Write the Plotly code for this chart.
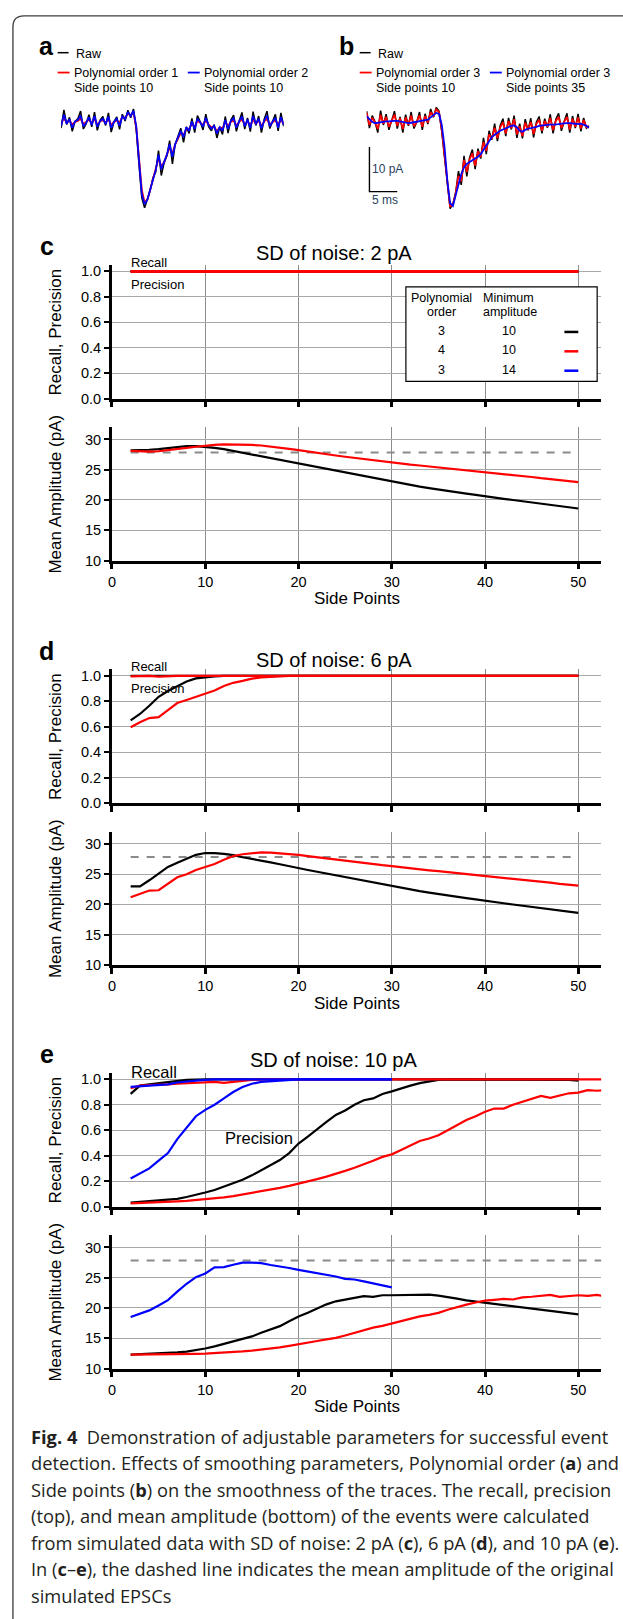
import plotly.graph_objects as go

W, H = 623, 1619
ARIAL = "Liberation Sans, Arial, sans-serif"
CAPFONT = "Open Sans, sans-serif"
BLACK, RED, BLUE, DASHGREY = "#000000", "#ff0000", "#0000ff", "#8a8a8a"

# ---------------- panel a / b traces (pA vs ms, sampled every 0.5 ms) ----------------
STEP_MS = 0.5

A_RAW = [-1.2, 2.9, -0.4, 1.2, -1.9, 0.3, 0.9, 2.6, -1.4, -0.2, 1.8, -0.9, 2.4, -1.7, 0.6, 1.4,
         -0.6, 2.2, -2.1, 0.2, 1.3, -1.5, 1.9, 0.4, 2.8, 1.1, 3.1, -1.5, -9.5, -16.8, -19.0, -17.0,
         -15.2, -12.3, -11.0, -6.2, -11.8, -9.0, -7.4, -4.0, -9.2, -4.8, -3.1, -1.2, -4.4, -0.9, -2.4, 1.0,
         -2.2, 1.6, 0.2, -1.6, 1.9, -0.9, -1.8, -0.4, -3.4, -1.0, -2.6, 1.4, -2.3, 0.6, 1.7, -1.9,
         0.4, 2.3, -1.4, 1.1, -2.0, 2.5, -0.6, 1.5, -2.2, 0.8, 2.6, -1.3, 0.3, 1.9, -1.8, 2.2, -0.8]
A_RED = [-0.2, 1.0, 0.0, 0.5, -0.4, 0.2, 0.4, 0.9, -0.3, 0.1, 0.7, -0.1, 0.9, -0.4, 0.3, 0.6,
         0.0, 0.8, -0.5, 0.2, 0.5, 0.0, 1.3, 1.1, 2.0, 1.7, 2.3, -1.0, -8.0, -15.0, -17.8, -17.2,
         -15.0, -12.8, -10.6, -8.0, -9.8, -8.8, -7.2, -5.6, -6.8, -4.8, -3.6, -2.2, -2.8, -1.4, -1.4, -0.2,
         -0.9, 0.4, 0.0, -0.5, 0.5, -0.4, -1.0, -0.9, -1.9, -1.0, -1.3, 0.3, -0.8, 0.2, 0.5, -0.6,
         0.2, 0.7, -0.4, 0.3, -0.6, 0.7, -0.2, 0.5, -0.7, 0.3, 0.8, -0.4, 0.1, 0.6, -0.5, 0.6, -0.2]
A_BLUE = [-0.6, 1.8, -0.2, 0.8, -1.1, 0.3, 0.6, 1.6, -0.8, 0.0, 1.2, -0.5, 1.5, -0.9, 0.4, 0.9,
          -0.3, 1.4, -1.2, 0.2, 0.9, -0.7, 1.5, 0.8, 2.4, 1.5, 2.7, -0.8, -8.5, -16.0, -18.2, -17.2,
          -15.0, -12.8, -10.6, -7.2, -10.4, -8.8, -7.2, -4.8, -7.6, -4.8, -3.2, -1.8, -3.2, -1.0, -1.8, 0.3,
          -1.4, 0.9, 0.1, -0.9, 1.1, -0.5, -1.3, -0.7, -2.4, -1.0, -1.8, 0.6, -1.4, 0.4, 1.0, -1.1,
          0.3, 1.4, -0.8, 0.7, -1.2, 1.5, -0.3, 0.9, -1.3, 0.5, 1.6, -0.8, 0.2, 1.1, -1.1, 1.3, -0.5]

B_RAW = [2.6, -1.2, 1.6, 0.2, -2.2, 2.7, -0.5, 1.9, -1.6, 0.6, 2.6, -1.3, 1.3, -2.2, 1.8, -0.7,
         2.4, -1.3, 0.1, 2.4, -1.6, 2.0, -0.3, 3.1, 1.2, 3.4, 2.6, -2.0, -8.0, -14.5, -19.2, -18.2,
         -15.6, -10.8, -13.9, -7.4, -12.0, -7.8, -6.0, -10.4, -5.8, -8.0, -3.4, -7.0, -1.8, -3.8, -0.2, -4.1,
         -0.6, 0.9, -3.0, 1.1, -1.5, 1.6, -3.4, -0.2, -3.5, 0.8, -1.7, 1.0, -3.3, 0.1, 1.4, -2.4,
         0.9, -1.1, 1.9, -2.4, 0.8, 2.1, -1.8, 0.3, 2.1, -2.2, 1.5, -1.2, 2.0, -1.9, 1.1, -1.2, -0.7]
B_RED = [2.2, -0.5, 1.1, 0.1, -1.4, 1.8, -0.2, 1.3, -0.9, 0.5, 1.8, -0.7, 1.0, -1.4, 1.2, -0.5,
         1.6, -0.8, 0.2, 1.7, -0.9, 1.5, 0.0, 2.4, 1.4, 3.0, 2.4, -1.5, -7.1, -14.0, -18.8, -18.3,
         -15.8, -11.9, -13.1, -8.3, -11.0, -8.2, -6.8, -9.6, -6.4, -7.7, -4.3, -6.3, -2.6, -3.6, -1.1, -3.4,
         -1.0, 0.1, -2.4, 0.4, -1.2, 0.8, -2.6, -0.8, -3.0, 0.0, -1.6, 0.2, -2.5, -0.3, 0.7, -1.8,
         0.4, -0.9, 1.1, -1.7, 0.4, 1.3, -1.2, 0.2, 1.3, -1.5, 0.9, -0.9, 1.2, -1.3, 0.6, -1.0, -0.8]
B_BLUE = [1.4, 0.8, 0.2, -0.1, 0.0, 0.2, 0.3, 0.3, 0.3, 0.4, 0.4, 0.4, 0.3, 0.2, 0.0, -0.1,
          0.0, 0.1, 0.3, 0.3, 0.4, 0.5, 0.7, 1.2, 1.8, 2.2, 2.0, -0.5, -5.5, -13.0, -18.0, -18.6,
          -16.2, -13.8, -11.5, -10.0, -9.2, -8.8, -8.4, -8.0, -7.6, -7.0, -6.0, -5.0, -4.0, -3.2, -2.7, -2.2,
          -1.8, -1.5, -1.2, -0.9, -0.7, -0.6, -1.0, -1.8, -2.0, -1.6, -1.3, -1.2, -1.1, -0.9, -0.7, -0.6,
          -0.5, -0.5, -0.4, -0.4, -0.4, -0.3, -0.2, -0.1, -0.1, -0.1, -0.2, -0.3, -0.3, -0.2, -0.4, -0.7, -1.1]

SCALE_PA, SCALE_MS = 10, 5
SCALE_T0, SCALE_Y0 = 0.5, -15.4

# ---------------- panels c-e: recall / precision / amplitude ----------------
MEAN_ORIGINAL_PA = 27.85
SP_2_50 = list(range(2, 51))
SP_2_53 = list(range(2, 54))
SP_2_30 = list(range(2, 31))

# c : SD 2 pA
C_RECALL_X, C_RECALL_BLACK, C_RECALL_RED = [2, 50], [1.0, 1.0], [1.0, 1.0]
C_PREC_X, C_PREC_BLACK, C_PREC_RED = [2, 50], [1.0, 1.0], [1.0, 1.0]
C_AMP_BLACK = [28.2, 28.2, 28.3, 28.4, 28.6, 28.8, 28.9, 28.9, 28.8, 28.6, 28.4, 28.1, 27.8, 27.55, 27.25,
               26.95, 26.65, 26.3, 26.0, 25.7, 25.4, 25.1, 24.8, 24.5, 24.2, 23.9, 23.6, 23.3, 23.0, 22.7,
               22.45, 22.2, 21.95, 21.7, 21.5, 21.3, 21.05, 20.85, 20.6, 20.4, 20.2, 20.0, 19.8, 19.6, 19.4,
               19.2, 19.0, 18.8, 18.6]
C_AMP_RED = [28.1, 28.0, 28.0, 28.05, 28.2, 28.4, 28.6, 28.8, 29.0, 29.1, 29.2, 29.2, 29.15, 29.1, 29.0,
             28.85, 28.65, 28.45, 28.25, 28.0, 27.8, 27.6, 27.35, 27.15, 26.95, 26.75, 26.55, 26.35, 26.2,
             26.0, 25.85, 25.7, 25.55, 25.4, 25.2, 25.05, 24.9, 24.75, 24.55, 24.4, 24.25, 24.1, 23.95, 23.8,
             23.6, 23.45, 23.3, 23.1, 22.95]

# d : SD 6 pA
D_RECALL_BLACK_X, D_RECALL_BLACK = [2, 50], [1.0, 1.0]
D_RECALL_RED_X = [2, 3, 4, 5, 6, 7, 50]
D_RECALL_RED = [0.995, 1.0, 1.0, 0.993, 0.995, 1.0, 1.0]
D_PREC_BLACK_X = [2, 3, 4, 5, 6, 7, 8, 9, 10, 11, 12, 50]
D_PREC_BLACK = [0.65, 0.70, 0.765, 0.835, 0.88, 0.915, 0.955, 0.98, 0.99, 0.995, 1.0, 1.0]
D_PREC_RED_X = [2, 3, 4, 5, 6, 7, 8, 9, 10, 11, 12, 13, 14, 15, 16, 17, 18, 19, 50]
D_PREC_RED = [0.595, 0.635, 0.668, 0.675, 0.73, 0.786, 0.81, 0.835, 0.856, 0.885, 0.92, 0.945, 0.96,
              0.978, 0.988, 0.993, 0.997, 1.0, 1.0]
D_AMP_BLACK = [23.0, 23.0, 24.0, 25.1, 26.2, 26.9, 27.6, 28.2, 28.5, 28.5, 28.35, 28.15, 27.8, 27.55, 27.25,
               26.95, 26.65, 26.3, 26.0, 25.7, 25.4, 25.1, 24.8, 24.5, 24.2, 23.9, 23.6, 23.3, 23.0, 22.7,
               22.45, 22.2, 21.95, 21.7, 21.5, 21.3, 21.05, 20.85, 20.6, 20.4, 20.2, 20.0, 19.8, 19.6, 19.4,
               19.2, 19.0, 18.8, 18.6]
D_AMP_RED = [21.2, 21.7, 22.3, 22.35, 23.5, 24.5, 25.0, 25.7, 26.2, 26.7, 27.4, 28.0, 28.3, 28.5, 28.6,
             28.55, 28.45, 28.35, 28.2, 28.0, 27.8, 27.6, 27.4, 27.2, 27.0, 26.85, 26.65, 26.5, 26.35, 26.15,
             26.0, 25.85, 25.65, 25.5, 25.35, 25.15, 25.0, 24.85, 24.7, 24.5, 24.35, 24.2, 24.05, 23.9, 23.75,
             23.6, 23.4, 23.25, 23.1]

# e : SD 10 pA
E_RECALL_BLACK_X = [2, 3, 4, 5, 6, 7, 8, 9, 10, 50]
E_RECALL_BLACK = [0.885, 0.95, 0.96, 0.97, 0.98, 0.99, 0.995, 0.998, 1.0, 1.0]
E_RECALL_RED_X = [2, 3, 4, 5, 6, 7, 8, 9, 10, 11, 12, 13, 14, 15, 16, 53]
E_RECALL_RED = [0.93, 0.95, 0.955, 0.955, 0.96, 0.965, 0.97, 0.975, 0.975, 0.98, 0.972, 0.98, 0.99, 0.995,
                1.0, 1.0]
E_RECALL_BLUE_X = [2, 3, 4, 5, 6, 7, 8, 9, 10, 11, 30]
E_RECALL_BLUE = [0.94, 0.945, 0.945, 0.95, 0.96, 0.975, 0.985, 0.99, 0.995, 1.0, 1.0]
E_PREC_BLACK = [0.03, 0.035, 0.04, 0.045, 0.05, 0.06, 0.075, 0.09, 0.11, 0.13, 0.155, 0.18, 0.21, 0.245,
                0.285, 0.325, 0.365, 0.42, 0.495, 0.55, 0.61, 0.665, 0.72, 0.755, 0.80, 0.835, 0.85, 0.885,
                0.905, 0.93, 0.95, 0.97, 0.985, 0.995, 1.0, 1.0, 1.0, 1.0, 1.0, 1.0, 1.0, 0.996, 0.996, 1.0,
                1.0, 1.0, 0.997, 0.995, 0.99]
E_PREC_RED = [0.025, 0.027, 0.03, 0.033, 0.036, 0.04, 0.044, 0.05, 0.055, 0.063, 0.072, 0.082, 0.094, 0.105,
              0.118, 0.132, 0.147, 0.162, 0.178, 0.196, 0.215, 0.235, 0.255, 0.28, 0.305, 0.33, 0.36, 0.39,
              0.41, 0.445, 0.48, 0.515, 0.535, 0.56, 0.60, 0.64, 0.68, 0.71, 0.745, 0.77, 0.77, 0.80, 0.825,
              0.85, 0.87, 0.855, 0.875, 0.89, 0.895, 0.915, 0.91, 0.915]
E_PREC_BLUE_X = [2, 3, 4, 5, 6, 7, 8, 9, 10, 11, 12, 13, 14, 15, 16, 17, 18, 19, 20, 30]
E_PREC_BLUE = [0.22, 0.26, 0.30, 0.36, 0.42, 0.53, 0.62, 0.71, 0.76, 0.80, 0.85, 0.90, 0.94, 0.965, 0.98,
               0.985, 0.99, 0.995, 1.0, 1.0]
E_AMP_BLACK = [12.3, 12.35, 12.4, 12.45, 12.55, 12.65, 12.8, 13.0, 13.3, 13.65, 14.05, 14.5, 14.95, 15.3,
               15.9, 16.4, 17.0, 17.8, 18.6, 19.2, 19.9, 20.6, 21.1, 21.4, 21.7, 21.95, 21.85, 22.1, 22.1,
               22.15, 22.2, 22.15, 22.2, 22.05, 21.85, 21.55, 21.25, 21.05, 20.85, 20.65, 20.45, 20.25,
               20.05, 19.85, 19.65, 19.45, 19.3, 19.1, 18.95]
E_AMP_RED = [12.3, 12.3, 12.32, 12.34, 12.36, 12.38, 12.4, 12.42, 12.45, 12.52, 12.6, 12.7, 12.82, 12.95,
             13.1, 13.3, 13.5, 13.75, 14.05, 14.3, 14.55, 14.8, 15.05, 15.45, 15.9, 16.3, 16.75, 17.05,
             17.45, 17.8, 18.2, 18.6, 18.85, 19.2, 19.7, 20.15, 20.55, 20.9, 21.2, 21.35, 21.5, 21.4, 21.75,
             21.85, 22.0, 22.15, 21.85, 21.95, 22.1, 22.0, 22.15, 21.9]
E_AMP_BLUE = [18.5, 19.0, 19.6, 20.4, 21.3, 22.7, 24.0, 25.1, 25.7, 26.7, 26.75, 27.15, 27.5, 27.5, 27.4,
              27.1, 26.9, 26.6, 26.3, 26.05, 25.8, 25.5, 25.2, 24.8, 24.7, 24.4, 24.1, 23.8, 23.4]

X_TICKS = [0, 10, 20, 30, 40, 50]
RP_TICKS = [0.0, 0.2, 0.4, 0.6, 0.8, 1.0]
AMP_TICKS = [10, 15, 20, 25, 30]
LEGEND_ROWS = [("3", "10", BLACK), ("4", "10", RED), ("3", "14", BLUE)]
CAPTION = [
    "<b>Fig. 4</b>&nbsp;&nbsp;Demonstration of adjustable parameters for successful event",
    "detection. Effects of smoothing parameters, Polynomial order (<b>a</b>) and",
    "Side points (<b>b</b>) on the smoothness of the traces. The recall, precision",
    "(top), and mean amplitude (bottom) of the events were calculated",
    "from simulated data with SD of noise: 2 pA (<b>c</b>), 6 pA (<b>d</b>), and 10 pA (<b>e</b>).",
    "In (<b>c</b>–<b>e</b>), the dashed line indicates the mean amplitude of the original",
    "simulated EPSCs",
]

# ---------------- helpers ----------------
def PX(x): return x / W
def PY(y): return 1 - y / H
def dom_x(x0, x1): return [PX(x0), PX(x1)]
def dom_y(top, bottom): return [PY(bottom), PY(top)]

fig = go.Figure()
annos, shapes = [], []

def line(x, y, color, ax, width=2.2, dash=None):
    fig.add_trace(go.Scatter(x=x, y=y, mode="lines", line=dict(color=color, width=width, dash=dash),
                             xaxis="x" + ax, yaxis="y" + ax, showlegend=False, hoverinfo="skip"))

def text(x, y, s, size, anchor="left", font=ARIAL, angle=0, color="#000"):
    annos.append(dict(x=PX(x), y=PY(y), xref="paper", yref="paper", text=s, showarrow=False,
                      xanchor=anchor, yanchor="middle", textangle=angle, borderpad=0,
                      font=dict(family=font, size=size, color=color)))

def seg(x0, y0, x1, y1, color, width):
    shapes.append(dict(type="line", xref="paper", yref="paper", x0=PX(x0), y0=PY(y0), x1=PX(x1), y1=PY(y1),
                       line=dict(color=color, width=width)))

layout_axes = {}

# ---- panel a / b trace axes ----
TRACE_Y_TOP, TRACE_Y_BOT = 103.5, 216.0
for idx, (x0, raw, red, blue) in enumerate([(57.5, A_RAW, A_RED, A_BLUE), (365.0, B_RAW, B_RED, B_BLUE)], start=1):
    ax = "" if idx == 1 else str(idx)
    line([i * STEP_MS for i in range(len(raw))], raw, BLACK, ax, width=1.5)
    line([i * STEP_MS for i in range(len(red))], red, RED, ax, width=1.8)
    line([i * STEP_MS for i in range(len(blue))], blue, BLUE, ax, width=1.8)
    layout_axes["xaxis" + ax] = dict(domain=dom_x(x0, x0 + 40 * 5.6), range=[0, 40], visible=False,
                                     anchor="y" + ax)
    layout_axes["yaxis" + ax] = dict(domain=dom_y(TRACE_Y_TOP, TRACE_Y_BOT), range=[-21, 4], visible=False,
                                     anchor="x" + ax)

# scale bar in panel b
line([SCALE_T0, SCALE_T0, SCALE_T0 + SCALE_MS], [SCALE_Y0 + SCALE_PA, SCALE_Y0, SCALE_Y0], BLACK, "2", width=1.4)
annos.append(dict(x=SCALE_T0 + 0.3, y=SCALE_Y0 + SCALE_PA / 2, xref="x2", yref="y2", text="10 pA",
                  showarrow=False, xanchor="left", yanchor="middle", borderpad=0,
                  font=dict(family=ARIAL, size=12)))
annos.append(dict(x=SCALE_T0 + 0.3, y=SCALE_Y0 - 1.9, xref="x2", yref="y2", text="5 ms",
                  showarrow=False, xanchor="left", yanchor="middle", borderpad=0,
                  font=dict(family=ARIAL, size=12)))

# legends for a and b
text(43, 44, "<b>a</b>", 25, anchor="center")
text(344.5, 44, "<b>b</b>", 25, anchor="center")
for lx, tx, items in [(54, 71, [("Polynomial order 1", "Side points 10", RED, 54),
                               ("Polynomial order 2", "Side points 10", BLUE, 185)]),
                      (358, 375, [("Polynomial order 3", "Side points 10", RED, 358),
                                  ("Polynomial order 3", "Side points 35", BLUE, 489)])]:
    seg(lx, 51, lx + 11, 51, BLACK, 1.5)
    text(tx, 52, "Raw", 12.5)
    for l1, l2, col, sx in items:
        seg(sx, 71, sx + 12, 71, col, 1.8)
        text(sx + 15, 71, l1, 12.5)
        text(sx + 15, 87, l2, 12.5)

# ---- panels c, d, e ----
PLOT_X0, PLOT_X1 = 108.5, 601.0
panels = [
    ("c", "SD of noise: 2 pA", (264.6, 399.0), (428.0, 562.0), 246, 253),
    ("d", "SD of noise: 6 pA", (671.6, 806.0), (835.0, 969.0), 653, 662),
    ("e", "SD of noise: 10 pA", (1077.6, 1212.0), (1241.0, 1375.0), 1059, 1065),
]

def xaxis_cfg(top_anchor, show_labels):
    return dict(domain=dom_x(PLOT_X0, PLOT_X1), range=[-0.02, 52.45], anchor=top_anchor, showline=True,
                linecolor="black", linewidth=2.5, ticks="outside", ticklen=6, tickwidth=2.5, tickcolor="black",
                tickvals=X_TICKS, ticktext=[str(v) for v in X_TICKS], showticklabels=show_labels,
                showgrid=True, gridcolor="#8c8c8c", gridwidth=1,
                zeroline=False, tickfont=dict(family=ARIAL, size=14.5, color="black"))

def yaxis_cfg(x_anchor, top, bottom, rng, ticks, ticktext):
    return dict(domain=dom_y(top, bottom), range=rng, anchor=x_anchor, showline=True, linecolor="black",
                linewidth=2.5, ticks="outside", ticklen=5, tickwidth=2, tickcolor="black", tickvals=ticks,
                ticktext=ticktext, showgrid=True, gridcolor="#a8a8a8", gridwidth=1, zeroline=False,
                tickfont=dict(family=ARIAL, size=14.5, color="black"))

for p, (letter, title, (tt, tb), (bt, bb), ly, ty) in enumerate(panels):
    at, ab = str(3 + 2 * p), str(4 + 2 * p)
    layout_axes["xaxis" + at] = xaxis_cfg("y" + at, False)
    layout_axes["yaxis" + at] = yaxis_cfg("x" + at, tt, tb, [0, 1.05], RP_TICKS, ["%.1f" % v for v in RP_TICKS])
    layout_axes["xaxis" + ab] = xaxis_cfg("y" + ab, True)
    layout_axes["yaxis" + ab] = yaxis_cfg("x" + ab, bt, bb, [10, 32], AMP_TICKS, [str(v) for v in AMP_TICKS])
    text(43, ly, "<b>%s</b>" % letter, 25, anchor="center")
    text(332, ty, title, 20, anchor="center")
    text(52, (tt + tb) / 2, "Recall, Precision", 17, anchor="center", angle=-90)
    text(52, (bt + bb) / 2, "Mean Amplitude (pA)", 17, anchor="center", angle=-90)
    text(355, bb + 38.5, "Side Points", 17, anchor="center")

# c data
line(C_RECALL_X, C_RECALL_BLACK, BLACK, "3")
line(C_PREC_X, C_PREC_BLACK, BLACK, "3")
line(C_RECALL_X, C_RECALL_RED, RED, "3", width=2.8)
line(C_PREC_X, C_PREC_RED, RED, "3", width=2.8)
line([2, 50], [MEAN_ORIGINAL_PA] * 2, DASHGREY, "4", width=2, dash="8px,8px")
line(SP_2_50, C_AMP_BLACK, BLACK, "4")
line(SP_2_50, C_AMP_RED, RED, "4")
# d data
line(D_RECALL_BLACK_X, D_RECALL_BLACK, BLACK, "5")
line(D_PREC_BLACK_X, D_PREC_BLACK, BLACK, "5")
line(D_RECALL_RED_X, D_RECALL_RED, RED, "5")
line(D_PREC_RED_X, D_PREC_RED, RED, "5")
line([2, 50], [MEAN_ORIGINAL_PA] * 2, DASHGREY, "6", width=2, dash="8px,8px")
line(SP_2_50, D_AMP_BLACK, BLACK, "6")
line(SP_2_50, D_AMP_RED, RED, "6")
# e data
line(E_RECALL_BLACK_X, E_RECALL_BLACK, BLACK, "7")
line(SP_2_50, E_PREC_BLACK, BLACK, "7")
line(E_RECALL_RED_X, E_RECALL_RED, RED, "7")
line(SP_2_53, E_PREC_RED, RED, "7")
line(E_RECALL_BLUE_X, E_RECALL_BLUE, BLUE, "7")
line(E_PREC_BLUE_X, E_PREC_BLUE, BLUE, "7")
line([2, 53], [MEAN_ORIGINAL_PA] * 2, DASHGREY, "8", width=2, dash="8px,8px")
line(SP_2_50, E_AMP_BLACK, BLACK, "8")
line(SP_2_53, E_AMP_RED, RED, "8")
line(SP_2_30, E_AMP_BLUE, BLUE, "8")

# Recall / Precision labels
text(127, 262, "Recall", 13)
text(127, 284, "Precision", 13)
text(127, 669, "Recall", 13)
text(127, 691, "Precision", 13)
text(127, 1077, "Recall", 16.5)
text(221, 1143, "Precision", 16.5)

# legend box in c
shapes.append(dict(type="rect", xref="paper", yref="paper", x0=PX(404.5), x1=PX(597), y0=PY(381.7), y1=PY(286.7),
                   line=dict(color="black", width=1.2), fillcolor="white", layer="above"))
text(440, 298, "Polynomial", 12.5, anchor="center")
text(440, 312, "order", 12.5, anchor="center")
text(481, 298, "Minimum", 12.5)
text(481, 312, "amplitude", 12.5)
for i, (po, ma, col) in enumerate(LEGEND_ROWS):
    yy = 331 + i * 19.5
    text(440, yy, po, 12.5, anchor="center")
    text(508.5, yy, ma, 12.5, anchor="center")
    seg(564, yy + 1, 578, yy + 1, col, 2.5)

# caption
for i, s in enumerate(CAPTION):
    text(26, 1443 + i * 26.7, s, 18.3, font=CAPFONT, color="#231f20")

# border
def P(x, y): return "%.5f,%.5f" % (PX(x), PY(y))
shapes.append(dict(type="path", xref="paper", yref="paper",
                   path="M %s L %s Q %s %s L %s" % (P(9, 1650), P(9, 25), P(9, 14), P(20, 14), P(650, 14)),
                   line=dict(color="#3c3c3c", width=1.3)))

fig.update_layout(width=W, height=H, margin=dict(l=0, r=0, t=0, b=0), autosize=False,
                  paper_bgcolor="white", plot_bgcolor="white", showlegend=False,
                  annotations=annos, shapes=shapes, **layout_axes)
fig.write_html("out.html", config={"displayModeBar": False},
               post_script="document.body.style.margin='0';document.body.style.overflow='hidden';")
